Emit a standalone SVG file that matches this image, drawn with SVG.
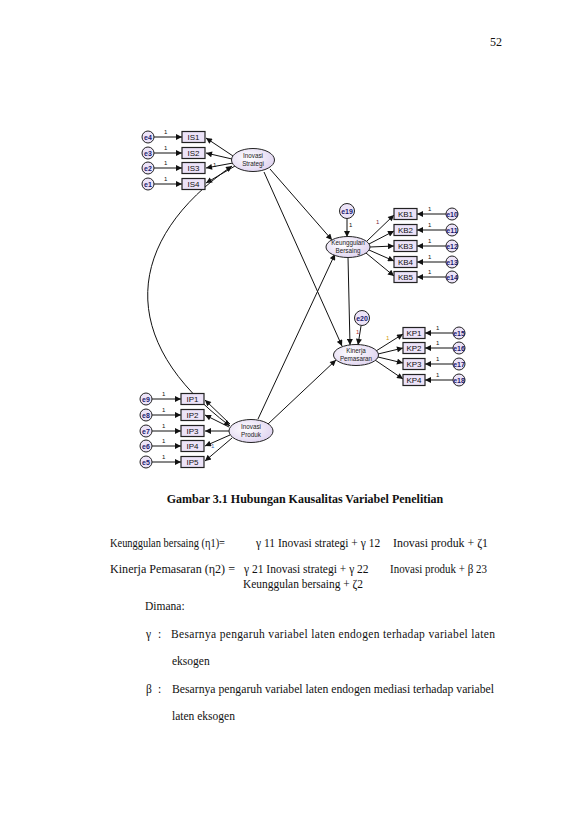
<svg xmlns="http://www.w3.org/2000/svg" width="579" height="819" viewBox="0 0 579 819">
<style>
.box{fill:#ece3f8;stroke:#222;stroke-width:1.2}
.err{fill:#ece3f8;stroke:#222;stroke-width:1}
.lat{fill:url(#lg);stroke:#222;stroke-width:1}
.ln{stroke:#111;stroke-width:1;fill:none}
.bl{font-family:"Liberation Sans",Arial,sans-serif;font-size:8px;fill:#111;text-anchor:middle}
.el{font-family:"Liberation Sans",Arial,sans-serif;font-size:7px;fill:#1a1a6e;text-anchor:middle;font-weight:bold}
.ll{font-family:"Liberation Sans",Arial,sans-serif;font-size:6.3px;fill:#222;text-anchor:middle}
.one{font-family:"Liberation Sans",Arial,sans-serif;font-size:6px;fill:#111}
.t{font-family:"Liberation Serif","Times New Roman",serif;font-size:11.5px;fill:#111}
</style>
<defs>
<radialGradient id="lg" cx="40%" cy="40%" r="70%">
<stop offset="0" stop-color="#ffffff"/>
<stop offset="1" stop-color="#ddd0ef"/>
</radialGradient>
<marker id="ah" viewBox="0 0 10 10" refX="10" refY="5" markerWidth="8" markerHeight="6" markerUnits="userSpaceOnUse" orient="auto-start-reverse">
<path d="M0,0 L10,5 L0,10 z" fill="#111"/>
</marker>
</defs>

<text x="490" y="46" class="t" style="font-size:12px">52</text>

<g id="connectors">
<!-- error -> IS -->
<line class="ln" x1="154" y1="137" x2="182" y2="137" marker-end="url(#ah)"/>
<line class="ln" x1="154" y1="153" x2="182" y2="153" marker-end="url(#ah)"/>
<line class="ln" x1="154" y1="168" x2="182" y2="168" marker-end="url(#ah)"/>
<line class="ln" x1="154" y1="184" x2="182" y2="184" marker-end="url(#ah)"/>
<!-- Inovasi Strategi -> IS -->
<line class="ln" x1="233" y1="156" x2="206" y2="138" marker-end="url(#ah)"/>
<line class="ln" x1="232" y1="159" x2="206" y2="153" marker-end="url(#ah)"/>
<line class="ln" x1="233" y1="163" x2="206" y2="168" marker-end="url(#ah)"/>
<line class="ln" x1="235" y1="166" x2="206" y2="183" marker-end="url(#ah)"/>
<!-- error -> IP -->
<line class="ln" x1="152" y1="399" x2="181" y2="399" marker-end="url(#ah)"/>
<line class="ln" x1="152" y1="415" x2="181" y2="415" marker-end="url(#ah)"/>
<line class="ln" x1="152" y1="431" x2="181" y2="431" marker-end="url(#ah)"/>
<line class="ln" x1="152" y1="446" x2="181" y2="446" marker-end="url(#ah)"/>
<line class="ln" x1="152" y1="462" x2="181" y2="462" marker-end="url(#ah)"/>
<!-- Inovasi Produk -> IP -->
<line class="ln" x1="230" y1="424" x2="205" y2="400" marker-end="url(#ah)"/>
<line class="ln" x1="229" y1="427" x2="205" y2="415" marker-end="url(#ah)"/>
<line class="ln" x1="229" y1="431" x2="205" y2="431" marker-end="url(#ah)"/>
<line class="ln" x1="230" y1="435" x2="205" y2="446" marker-end="url(#ah)"/>
<line class="ln" x1="232" y1="438" x2="205" y2="461" marker-end="url(#ah)"/>
<!-- covariance -->
<path class="ln" d="M232,166 C125,240 115,340 230,426" marker-start="url(#ah)" marker-end="url(#ah)"/>
<!-- structural -->
<line class="ln" x1="270" y1="169" x2="332" y2="240" marker-end="url(#ah)"/>
<line class="ln" x1="264" y1="172" x2="342" y2="346" marker-end="url(#ah)"/>
<line class="ln" x1="258" y1="419" x2="335" y2="254" marker-end="url(#ah)"/>
<line class="ln" x1="268" y1="424" x2="336" y2="360" marker-end="url(#ah)"/>
<line class="ln" x1="348" y1="257" x2="350" y2="345" marker-end="url(#ah)"/>
<!-- residuals -->
<line class="ln" x1="347" y1="218" x2="347" y2="237" marker-end="url(#ah)"/>
<line class="ln" x1="361" y1="326" x2="358" y2="345" marker-end="url(#ah)"/>
<!-- Keunggulan -> KB -->
<line class="ln" x1="367" y1="241" x2="394" y2="215" marker-end="url(#ah)"/>
<line class="ln" x1="369" y1="244" x2="394" y2="231" marker-end="url(#ah)"/>
<line class="ln" x1="370" y1="247" x2="394" y2="246" marker-end="url(#ah)"/>
<line class="ln" x1="369" y1="250" x2="394" y2="261" marker-end="url(#ah)"/>
<line class="ln" x1="366" y1="253" x2="394" y2="276" marker-end="url(#ah)"/>
<!-- error -> KB -->
<line class="ln" x1="446" y1="214" x2="417" y2="214" marker-end="url(#ah)"/>
<line class="ln" x1="446" y1="230" x2="417" y2="230" marker-end="url(#ah)"/>
<line class="ln" x1="446" y1="246" x2="417" y2="246" marker-end="url(#ah)"/>
<line class="ln" x1="446" y1="262" x2="417" y2="262" marker-end="url(#ah)"/>
<line class="ln" x1="446" y1="277" x2="417" y2="277" marker-end="url(#ah)"/>
<!-- Kinerja -> KP -->
<line class="ln" x1="376" y1="351" x2="403" y2="334" marker-end="url(#ah)"/>
<line class="ln" x1="378" y1="354" x2="403" y2="348" marker-end="url(#ah)"/>
<line class="ln" x1="378" y1="357" x2="403" y2="363" marker-end="url(#ah)"/>
<line class="ln" x1="375" y1="360" x2="403" y2="379" marker-end="url(#ah)"/>
<!-- error -> KP -->
<line class="ln" x1="453" y1="333" x2="425" y2="333" marker-end="url(#ah)"/>
<line class="ln" x1="453" y1="348" x2="425" y2="348" marker-end="url(#ah)"/>
<line class="ln" x1="453" y1="364" x2="425" y2="364" marker-end="url(#ah)"/>
<line class="ln" x1="453" y1="380" x2="425" y2="380" marker-end="url(#ah)"/>
<!-- weight labels -->
<text class="one" x="164" y="134">1</text>
<text class="one" x="164" y="150">1</text>
<text class="one" x="164" y="165">1</text>
<text class="one" x="164" y="181">1</text>
<text class="one" x="213" y="167">1</text>
<text class="one" x="162" y="396">1</text>
<text class="one" x="162" y="412">1</text>
<text class="one" x="162" y="428">1</text>
<text class="one" x="162" y="443">1</text>
<text class="one" x="162" y="459">1</text>
<text class="one" x="211" y="448" style="fill:#1f5fb5">1</text>
<text class="one" x="349" y="227">1</text>
<text class="one" x="356" y="334" style="fill:#b03030">1</text>
<text class="one" x="376" y="224" style="fill:#7a1f3a">1</text>
<text class="one" x="386" y="340" style="fill:#d09a10">1</text>
<text class="one" x="428" y="211">1</text>
<text class="one" x="428" y="227">1</text>
<text class="one" x="428" y="243">1</text>
<text class="one" x="428" y="259">1</text>
<text class="one" x="428" y="274">1</text>
<text class="one" x="436" y="330">1</text>
<text class="one" x="436" y="345">1</text>
<text class="one" x="436" y="361">1</text>
<text class="one" x="436" y="377">1</text>
</g>

<g id="IS"><ellipse class="lat" cx="253" cy="160" rx="21.5" ry="11.5"/><text class="ll" x="253" y="158">Inovasi</text><text class="ll" x="253" y="166">Strategi</text></g>
<g id="IP"><ellipse class="lat" cx="251" cy="431" rx="22" ry="11.5"/><text class="ll" x="251" y="429">Inovasi</text><text class="ll" x="251" y="437">Produk</text></g>
<g id="KB"><ellipse class="lat" cx="348" cy="247" rx="22" ry="10.5"/><text class="ll" x="348" y="245">Keunggulan</text><text class="ll" x="348" y="253">Bersaing</text></g>
<g id="KP"><ellipse class="lat" cx="356" cy="355" rx="22.5" ry="10.5"/><text class="ll" x="356" y="353">Kinerja</text><text class="ll" x="356" y="361">Pemasaran</text></g>

<g id="IS1"><rect class="box" x="182" y="131.5" width="23" height="11"/><text class="bl" x="193.5" y="140">IS1</text></g>
<g id="IS2"><rect class="box" x="182" y="147.5" width="23" height="11"/><text class="bl" x="193.5" y="156">IS2</text></g>
<g id="IS3"><rect class="box" x="182" y="162.5" width="23" height="11"/><text class="bl" x="193.5" y="171">IS3</text></g>
<g id="IS4"><rect class="box" x="182" y="178.5" width="23" height="11"/><text class="bl" x="193.5" y="187">IS4</text></g>

<g id="IP1"><rect class="box" x="181" y="393.5" width="23" height="11"/><text class="bl" x="192.5" y="402">IP1</text></g>
<g id="IP2"><rect class="box" x="181" y="409.5" width="23" height="11"/><text class="bl" x="192.5" y="418">IP2</text></g>
<g id="IP3"><rect class="box" x="181" y="425.5" width="23" height="11"/><text class="bl" x="192.5" y="434">IP3</text></g>
<g id="IP4"><rect class="box" x="181" y="440.5" width="23" height="11"/><text class="bl" x="192.5" y="449">IP4</text></g>
<g id="IP5"><rect class="box" x="181" y="456.5" width="23" height="11"/><text class="bl" x="192.5" y="465">IP5</text></g>

<g id="KB1"><rect class="box" x="394" y="208.5" width="23" height="11"/><text class="bl" x="405.5" y="217">KB1</text></g>
<g id="KB2"><rect class="box" x="394" y="224.5" width="23" height="11"/><text class="bl" x="405.5" y="233">KB2</text></g>
<g id="KB3"><rect class="box" x="394" y="240.5" width="23" height="11"/><text class="bl" x="405.5" y="249">KB3</text></g>
<g id="KB4"><rect class="box" x="394" y="256.5" width="23" height="11"/><text class="bl" x="405.5" y="265">KB4</text></g>
<g id="KB5"><rect class="box" x="394" y="271.5" width="23" height="11"/><text class="bl" x="405.5" y="280">KB5</text></g>

<g id="KP1"><rect class="box" x="403" y="327.5" width="22" height="11"/><text class="bl" x="414" y="336">KP1</text></g>
<g id="KP2"><rect class="box" x="403" y="342.5" width="22" height="11"/><text class="bl" x="414" y="351">KP2</text></g>
<g id="KP3"><rect class="box" x="403" y="358.5" width="22" height="11"/><text class="bl" x="414" y="367">KP3</text></g>
<g id="KP4"><rect class="box" x="403" y="374.5" width="22" height="11"/><text class="bl" x="414" y="383">KP4</text></g>

<g id="e4"><circle class="err" cx="148" cy="137" r="6"/><text class="el" x="148" y="139.5">e4</text></g>
<g id="e3"><circle class="err" cx="148" cy="153" r="6"/><text class="el" x="148" y="155.5">e3</text></g>
<g id="e2"><circle class="err" cx="148" cy="168" r="6"/><text class="el" x="148" y="170.5">e2</text></g>
<g id="e1"><circle class="err" cx="148" cy="184" r="6"/><text class="el" x="148" y="186.5">e1</text></g>

<g id="e9"><circle class="err" cx="146" cy="399" r="6"/><text class="el" x="146" y="401.5">e9</text></g>
<g id="e8"><circle class="err" cx="146" cy="415" r="6"/><text class="el" x="146" y="417.5">e8</text></g>
<g id="e7"><circle class="err" cx="146" cy="431" r="6"/><text class="el" x="146" y="433.5">e7</text></g>
<g id="e6"><circle class="err" cx="146" cy="446" r="6"/><text class="el" x="146" y="448.5">e6</text></g>
<g id="e5"><circle class="err" cx="146" cy="462" r="6"/><text class="el" x="146" y="464.5">e5</text></g>

<g id="e19"><circle class="err" cx="347" cy="211" r="7.5"/><text class="el" x="347" y="213.5">e19</text></g>
<g id="e20"><circle class="err" cx="362" cy="318" r="7.5"/><text class="el" x="362" y="320.5">e20</text></g>

<g id="e10"><circle class="err" cx="452" cy="214" r="6"/><text class="el" x="452" y="216.5">e10</text></g>
<g id="e11"><circle class="err" cx="452" cy="230" r="6"/><text class="el" x="452" y="232.5">e11</text></g>
<g id="e12"><circle class="err" cx="452" cy="246" r="6"/><text class="el" x="452" y="248.5">e12</text></g>
<g id="e13"><circle class="err" cx="452" cy="262" r="6"/><text class="el" x="452" y="264.5">e13</text></g>
<g id="e14"><circle class="err" cx="452" cy="277" r="6"/><text class="el" x="452" y="279.5">e14</text></g>

<g id="e15"><circle class="err" cx="459" cy="333" r="6"/><text class="el" x="459" y="335.5">e15</text></g>
<g id="e16"><circle class="err" cx="459" cy="348" r="6"/><text class="el" x="459" y="350.5">e16</text></g>
<g id="e17"><circle class="err" cx="459" cy="364" r="6"/><text class="el" x="459" y="366.5">e17</text></g>
<g id="e18"><circle class="err" cx="459" cy="380" r="6"/><text class="el" x="459" y="382.5">e18</text></g>

<text class="t" x="305" y="503" text-anchor="middle" style="font-weight:bold;font-size:12px">Gambar 3.1 Hubungan Kausalitas Variabel Penelitian</text>

<text class="t" x="110" y="547" textLength="115" lengthAdjust="spacingAndGlyphs">Keunggulan bersaing (η1)=</text>
<text class="t" x="256" y="547">γ 11 Inovasi strategi  + γ 12</text>
<text class="t" x="393" y="547" textLength="95" lengthAdjust="spacingAndGlyphs">Inovasi produk + ζ1</text>

<text class="t" x="110" y="573" textLength="125" lengthAdjust="spacingAndGlyphs">Kinerja Pemasaran (η2) =</text>
<text class="t" x="244" y="573">γ 21 Inovasi strategi  + γ 22</text>
<text class="t" x="390" y="573" textLength="97" lengthAdjust="spacingAndGlyphs">Inovasi produk + β 23</text>
<text class="t" x="243" y="588" textLength="120" lengthAdjust="spacingAndGlyphs">Keunggulan bersaing + ζ2</text>

<text class="t" x="145" y="610">Dimana:</text>
<text class="t" x="146" y="638">γ</text>
<text class="t" x="158" y="638">:</text>
<text class="t" x="171" y="638" textLength="324" lengthAdjust="spacing">Besarnya pengaruh variabel laten endogen terhadap variabel laten</text>
<text class="t" x="172" y="665">eksogen</text>
<text class="t" x="146" y="693">β</text>
<text class="t" x="158" y="693">:</text>
<text class="t" x="172" y="693" textLength="322" lengthAdjust="spacingAndGlyphs">Besarnya pengaruh variabel laten endogen mediasi terhadap variabel</text>
<text class="t" x="172" y="720">laten eksogen</text>
</svg>
